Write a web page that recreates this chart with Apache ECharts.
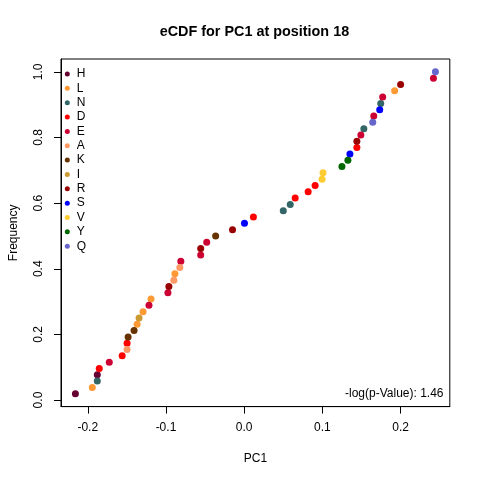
<!DOCTYPE html>
<html>
<head>
<meta charset="utf-8">
<script src="https://cdn.jsdelivr.net/npm/echarts@6/dist/echarts.min.js"></script>
<style>
html,body{margin:0;padding:0;background:#fff;}
#chart{width:480px;height:480px;}
</style>
</head>
<body>
<div id="chart"></div>
<script>
// Residue categories (legend order) and their colours
const residueTypes = ['H','L','N','D','E','A','K','I','R','S','V','Y','Q'];
const residueColors = ['#660033','#FF9933','#336666','#FF0000','#CC0033','#FF9966','#663300','#CC9933','#990000','#0000FF','#FFCC33','#006600','#6666CC'];

// PC1 values (sorted ascending) and the residue of each observation
const pc1Values = [
  -0.2158,-0.1942,-0.1878,-0.1878,-0.1853,-0.1725,-0.1560,-0.1497,-0.1497,-0.1484,
  -0.1408,-0.1369,-0.1344,-0.1293,-0.1217,-0.1191,-0.0975,-0.0963,-0.0899,-0.0886,
  -0.0823,-0.0810,-0.0556,-0.0556,-0.0479,-0.0365,-0.0149,0.0004,0.0118,0.0500,
  0.0589,0.0652,0.0818,0.0907,0.0996,0.1008,0.1250,0.1326,0.1352,0.1441,
  0.1441,0.1492,0.1530,0.1644,0.1657,0.1733,0.1746,0.1771,0.1924,0.2000,
  0.2420,0.2445
];
const pointResidues = [
  'H','L','N','H','D','E','D','A','D','K',
  'K','L','I','L','E','L','E','R','A','L',
  'A','E','E','R','E','K','R','S','D','N',
  'N','D','D','D','V','V','Y','Y','S','D',
  'R','E','N','Q','E','S','N','E','L','R',
  'E','Q'
];

// Axis ticks
const xTicks = [-0.2,-0.1,0.0,0.1,0.2];
const yTicks = [0.0,0.2,0.4,0.6,0.8,1.0];

const titleText = 'eCDF for PC1 at position 18';
const xName = 'PC1';
const yName = 'Frequency';
const pValueText = '-log(p-Value): 1.46';

// empirical CDF: rank / n
const n = pc1Values.length;
const ecdf = pc1Values.map((v, i) => [v, (i + 1) / n]);

// R-style 4% axis extension
const xmin = Math.min(...pc1Values), xmax = Math.max(...pc1Values);
const xr = xmax - xmin;
const ymin = 1 / n, ymax = 1;
const yr = ymax - ymin;

const FONT = '"Liberation Sans", Arial, Helvetica, sans-serif';

const series = residueTypes.map((r, k) => ({
  name: r,
  type: 'scatter',
  symbol: 'circle',
  symbolSize: 7,
  itemStyle: { color: residueColors[k], opacity: 1 },
  emphasis: { disabled: true },
  data: ecdf.filter((p, i) => pointResidues[i] === r)
}));

const chart = echarts.init(document.getElementById('chart'), null, { renderer: 'canvas' });
chart.setOption({
  animation: false,
  backgroundColor: '#fff',
  textStyle: { fontFamily: FONT },
  grid: {
    left: 59, right: 30.2, top: 59, bottom: 73.4,
    show: true, borderColor: '#000', borderWidth: 1, backgroundColor: 'transparent'
  },
  legend: {
    orient: 'vertical',
    left: 64.8,
    top: 68,
    padding: 0,
    itemGap: 2.35,
    itemWidth: 9,
    itemHeight: 5,
    icon: 'circle',
    selectedMode: false,
    textStyle: { fontFamily: FONT, fontSize: 12, color: '#000', padding: [0,0,0,0] },
    data: residueTypes
  },
  xAxis: {
    type: 'value',
    min: xmin - 0.04 * xr,
    max: xmax + 0.04 * xr,
    splitLine: { show: false },
    axisLine: { show: true, onZero: false, lineStyle: { color: '#000', width: 1 } },
    axisTick: { show: true, length: 7, lineStyle: { color: '#000' }, customValues: xTicks },
    axisLabel: { show: true, margin: 15, fontSize: 12, color: '#000', fontFamily: FONT,
      customValues: xTicks, formatter: v => v.toFixed(1) },
    name: xName,
    nameLocation: 'middle',
    nameGap: 46,
    nameTextStyle: { fontSize: 12, color: '#000', fontFamily: FONT }
  },
  yAxis: {
    type: 'value',
    min: ymin - 0.04 * yr,
    max: ymax + 0.04 * yr,
    splitLine: { show: false },
    axisLine: { show: true, onZero: false, lineStyle: { color: '#000', width: 1 } },
    axisTick: { show: true, length: 7, lineStyle: { color: '#000' }, customValues: yTicks },
    axisLabel: { show: true, margin: 16, fontSize: 12, color: '#000', fontFamily: FONT,
      rotate: 90, customValues: yTicks, formatter: v => v.toFixed(1) },
    name: yName,
    nameLocation: 'middle',
    nameGap: 41,
    nameRotate: 90,
    nameTextStyle: { fontSize: 12, color: '#000', fontFamily: FONT }
  },
  graphic: [{
    type: 'text',
    x: 254.4,
    y: 32.5,
    style: { text: titleText, fontSize: 14.4, fontWeight: 'bold', fontFamily: FONT, fill: '#000',
      align: 'center', verticalAlign: 'middle' }
  }, {
    type: 'text',
    right: 480 - 443.5,
    top: 388,
    style: { text: pValueText, fontSize: 12, fontFamily: FONT, fill: '#000' }
  }],
  series: series
});
</script>
</body>
</html>
